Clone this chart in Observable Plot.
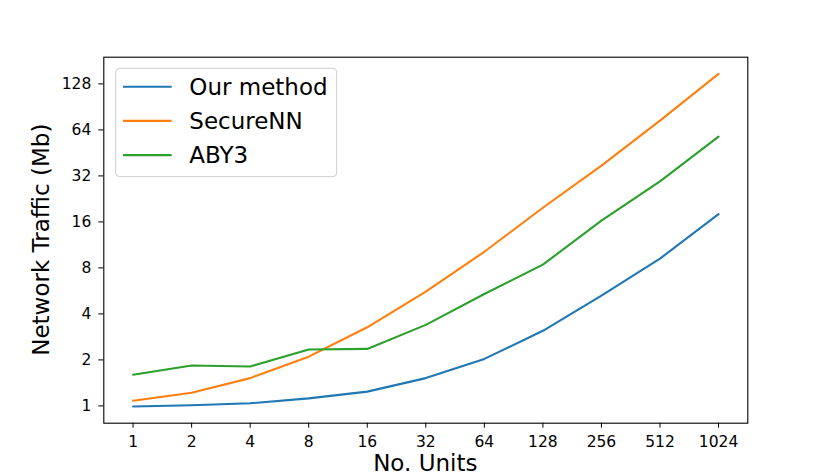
<!DOCTYPE html>
<html>
<head>
<meta charset="utf-8">
<script src="https://cdn.jsdelivr.net/npm/d3@7"></script>
<script src="https://cdn.jsdelivr.net/npm/@observablehq/plot@0.6"></script>
<style>
  html, body { margin: 0; padding: 0; background: white; }
  #chart { width: 830px; height: 475px; }
</style>
</head>
<body>
<div id="chart"></div>
<script>
// ---- data ----
const units = [1, 2, 4, 8, 16, 32, 64, 128, 256, 512, 1024];
const yTickValues = [1, 2, 4, 8, 16, 32, 64, 128];
const seriesNames = ["Our method", "SecureNN", "ABY3"];
const seriesColors = ["#1f77b4", "#ff7f0e", "#2ca02c"];
const ourMethod = [0.99, 1.01, 1.04, 1.12, 1.24, 1.52, 2.03, 3.1, 5.27, 9.2, 18.0];
const secureNN = [1.08, 1.22, 1.52, 2.1, 3.27, 5.6, 10.2, 19.8, 37.4, 73.6, 149];
const aby3 = [1.6, 1.84, 1.81, 2.34, 2.36, 3.39, 5.4, 8.4, 16.3, 29.5, 57.8];
const xLabel = "No. Units";
const yLabel = "Network Traffic (Mb)";

// ---- build table ----
const seriesValues = [ourMethod, secureNN, aby3];
const rows = [];
seriesNames.forEach((name, i) => {
  units.forEach((u, j) => rows.push({series: name, units: u, value: seriesValues[i][j]}));
});

// matplotlib-like 5% margins in log space
const lx = units.map(Math.log2);
const lxMin = d3.min(lx), lxMax = d3.max(lx), lxPad = (lxMax - lxMin) * 0.05;
const ly = rows.map(d => Math.log2(d.value));
const lyMin = d3.min(ly), lyMax = d3.max(ly), lyPad = (lyMax - lyMin) * 0.05;

const W = 830, H = 475;
const mL = 103.3, mR = 82.7, mT = 56.7, mB = 52.3;

const chart = Plot.plot({
  width: W,
  height: H,
  marginLeft: mL,
  marginRight: mR,
  marginTop: mT,
  marginBottom: mB,
  style: {fontFamily: "DejaVu Sans", fontSize: "15.5px", color: "black", background: "white"},
  x: {type: "log", base: 2, domain: [2 ** (lxMin - lxPad), 2 ** (lxMax + lxPad)], label: null},
  y: {type: "log", base: 2, domain: [2 ** (lyMin - lyPad), 2 ** (lyMax + lyPad)], label: null},
  color: {domain: seriesNames, range: seriesColors},
  marks: [
    Plot.axisX(units, {tickSize: 5, tickPadding: 8, tickFormat: d => String(d), label: null, stroke: "black", fill: "black"}),
    Plot.axisY(yTickValues, {tickSize: 5, tickPadding: 7.5, tickFormat: d => String(d), label: null, stroke: "black", fill: "black"}),
    Plot.line(rows, {x: "units", y: "value", z: "series", stroke: "series", strokeWidth: 2.1}),
    Plot.frame({stroke: "black", strokeWidth: 1.1})
  ]
});

document.getElementById("chart").appendChild(chart);

// ---- axis labels & legend (text kept as real text) ----
const svg = d3.select(chart);
const cx = (mL + (W - mR)) / 2;
const cy = (mT + (H - mB)) / 2;
svg.append("text")
  .attr("x", cx).attr("y", 471)
  .attr("text-anchor", "middle")
  .attr("font-family", "DejaVu Sans").attr("font-size", 23).attr("fill", "black")
  .text(xLabel);
svg.append("text")
  .attr("transform", `translate(49.3,${cy}) rotate(-90)`)
  .attr("text-anchor", "middle")
  .attr("font-family", "DejaVu Sans").attr("font-size", 23).attr("fill", "black")
  .text(yLabel);

const lg = svg.append("g");
lg.append("rect")
  .attr("x", 115.7).attr("y", 68.3).attr("width", 221).attr("height", 108.4)
  .attr("rx", 4).attr("ry", 4)
  .attr("fill", "white").attr("fill-opacity", 0.8)
  .attr("stroke", "#cccccc").attr("stroke-width", 1);
seriesNames.forEach((name, i) => {
  const yy = 86.7 + i * 34.2;
  lg.append("line")
    .attr("x1", 123).attr("x2", 171.7).attr("y1", yy).attr("y2", yy)
    .attr("stroke", seriesColors[i]).attr("stroke-width", 2.1);
  lg.append("text")
    .attr("x", 189.3).attr("y", yy + 8.3)
    .attr("text-anchor", "start")
    .attr("font-family", "DejaVu Sans").attr("font-size", 23).attr("fill", "black")
    .text(name);
});
</script>
</body>
</html>
